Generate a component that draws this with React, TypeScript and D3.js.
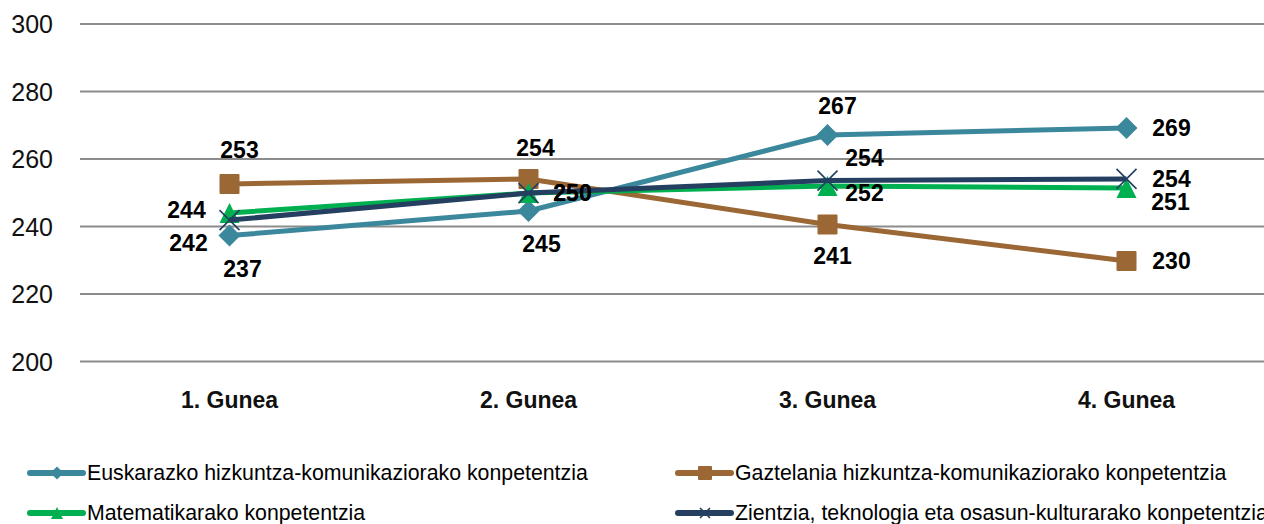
import React from "react";
import * as d3 from "d3";

const categories = ["1. Gunea", "2. Gunea", "3. Gunea", "4. Gunea"];
const seriesNames = [
  "Euskarazko hizkuntza-komunikaziorako konpetentzia",
  "Gaztelania hizkuntza-komunikaziorako konpetentzia",
  "Matematikarako konpetentzia",
  "Zientzia, teknologia eta osasun-kulturarako konpetentzia",
];
const euskara = [237.3, 244.6, 267.1, 269.2];
const gaztelania = [252.6, 254.1, 240.6, 229.8];
const matematika = [244.0, 249.9, 252.0, 251.4];
const zientzia = [241.9, 249.9, 253.6, 254.1];
const yTicks = [200, 220, 240, 260, 280, 300];

const W = 1264;
const H = 524;
const FONT = "'Liberation Sans', Arial, sans-serif";

// label offsets (layout only)
const labelOffsets: [number, number][][] = [
  [[13, 33], [13, 33], [10, -29], [45, 0]],
  [[10, -34], [7, -31], [5, 32], [45, 0]],
  [[-43, -3], [44, 0], [37, 7], [44, 14]],
  [[-41, 23], [44, 0], [37, -23], [45, 0]],
];

type Marker = "diamond" | "square" | "triangle" | "x";

const series = [
  { name: seriesNames[0], values: euskara, color: "#3B879B", marker: "diamond" as Marker },
  { name: seriesNames[1], values: gaztelania, color: "#9B6735", marker: "square" as Marker },
  { name: seriesNames[2], values: matematika, color: "#00B050", marker: "triangle" as Marker },
  { name: seriesNames[3], values: zientzia, color: "#243F60", marker: "x" as Marker },
];

function MarkerShape({ type, cx, cy, s, color }: { type: Marker; cx: number; cy: number; s: number; color: string }) {
  if (type === "diamond") {
    return <path d={`M${cx},${cy - s}L${cx + s},${cy}L${cx},${cy + s}L${cx - s},${cy}Z`} fill={color} />;
  }
  if (type === "square") {
    return <rect x={cx - s} y={cy - s} width={2 * s} height={2 * s} fill={color} rx={1} />;
  }
  if (type === "triangle") {
    return <path d={`M${cx},${cy - s}L${cx + s},${cy + s}L${cx - s},${cy + s}Z`} fill={color} />;
  }
  return (
    <path
      d={`M${cx - s},${cy - s}L${cx + s},${cy + s}M${cx + s},${cy - s}L${cx - s},${cy + s}`}
      stroke={color}
      strokeWidth={1.6}
      fill="none"
    />
  );
}

export default function App() {
  const x = d3.scaleBand<string>().domain(categories).range([80, 1276]).padding(0);
  const cx = (c: string) => (x(c) as number) + x.bandwidth() / 2;
  const y = d3.scaleLinear().domain([200, 300]).range([361.5, 24]);
  const line = d3
    .line<number>()
    .x((_, i) => cx(categories[i]))
    .y((d) => y(d));
  const fmt = d3.format(".0f");

  const legendPos = [
    { lx: 30, ty: 473 },
    { lx: 678, ty: 473 },
    { lx: 30, ty: 513 },
    { lx: 678, ty: 513 },
  ];
  const legendMarkerSize: Record<Marker, number> = { diamond: 6.5, square: 7, triangle: 6, x: 5 };

  return (
    <svg
      width={W}
      height={H}
      style={{ position: "absolute", left: 0, top: 0, background: "#fff" }}
      fontFamily={FONT}
    >
      <rect width={W} height={H} fill="#fff" />
      {yTicks.map((t) => (
        <g key={t}>
          <line x1={80} x2={W} y1={y(t)} y2={y(t)} stroke="#8c8c8c" strokeWidth={1.8} />
          <text x={53} y={y(t)} textAnchor="end" dominantBaseline="central" fontSize={25} fill="#111">
            {t}
          </text>
        </g>
      ))}
      {categories.map((c) => (
        <text key={c} x={cx(c)} y={400} textAnchor="middle" dominantBaseline="central" fontSize={23} fontWeight="bold" fill="#111">
          {c}
        </text>
      ))}
      {series.map((s) => (
        <g key={s.name}>
          <path d={line(s.values) || ""} fill="none" stroke={s.color} strokeWidth={5} strokeLinejoin="round" />
          {s.values.map((v, i) => (
            <MarkerShape key={i} type={s.marker} cx={cx(categories[i])} cy={y(v)} s={s.marker === "diamond" ? 11 : 10} color={s.color} />
          ))}
        </g>
      ))}
      {series.map((s, si) =>
        s.values.map((v, i) => (
          <text
            key={`${si}-${i}`}
            x={cx(categories[i]) + labelOffsets[si][i][0]}
            y={y(v) + labelOffsets[si][i][1]}
            textAnchor="middle"
            dominantBaseline="central"
            fontSize={23}
            fontWeight="bold"
            fill="#000"
          >
            {fmt(v)}
          </text>
        ))
      )}
      {series.map((s, si) => {
        const p = legendPos[si];
        return (
          <g key={`lg-${si}`}>
            <line x1={p.lx} x2={p.lx + 53} y1={p.ty} y2={p.ty} stroke={s.color} strokeWidth={6} strokeLinecap="round" />
            <MarkerShape type={s.marker} cx={p.lx + 27} cy={p.ty} s={legendMarkerSize[s.marker]} color={s.color} />
            <text x={p.lx + 57} y={p.ty} dominantBaseline="central" fontSize={21.3} fill="#000">
              {s.name}
            </text>
          </g>
        );
      })}
    </svg>
  );
}
